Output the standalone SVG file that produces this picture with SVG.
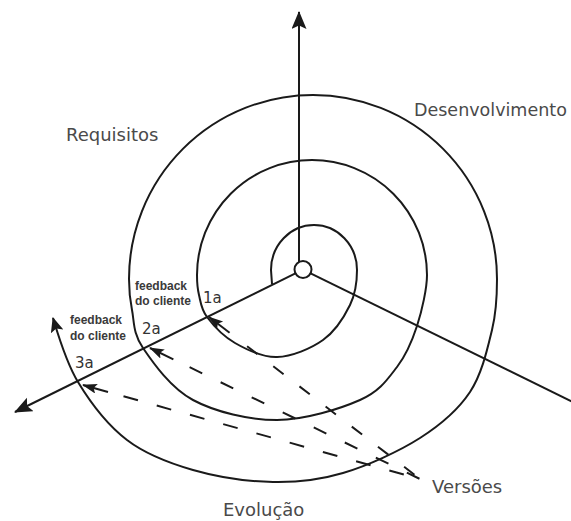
<svg xmlns="http://www.w3.org/2000/svg" width="571" height="521" viewBox="0 0 571 521">
<style>
.ln{fill:none;stroke:#1a1a1a;stroke-width:2}
.lbl{font-family:"DejaVu Sans",sans-serif;font-size:18px;fill:#4a4a4a}
.num{font-family:"DejaVu Sans",sans-serif;font-size:15px;fill:#333}
.fb{font-family:"Liberation Sans",Arial,sans-serif;font-size:12px;font-weight:bold;fill:#3a3a3a}
</style>
<defs>
<marker id="axArrow" markerUnits="userSpaceOnUse" markerWidth="20" markerHeight="16" refX="17" refY="7.5" orient="auto">
<path d="M0,0 L18,7.5 L0,15 L3.5,7.5 Z" fill="#1a1a1a"/>
</marker>
<marker id="spArrow" markerUnits="userSpaceOnUse" markerWidth="16" markerHeight="14" refX="14" refY="6.5" orient="auto">
<path d="M0,0 L15,6.5 L0,13 L3,6.5 Z" fill="#1a1a1a"/>
</marker>
<marker id="fbArrow" markerUnits="userSpaceOnUse" markerWidth="16" markerHeight="12" refX="14" refY="5" orient="auto-start-reverse">
<path d="M0,0 L15,5 L0,10 L3,5 Z" fill="#1a1a1a"/>
</marker>
</defs>
<g id="connectors">
<line id="axis-up" class="ln" x1="299" y1="262" x2="299" y2="12" marker-end="url(#axArrow)"/>
<line id="axis-left" class="ln" x1="295.4" y1="273.3" x2="15" y2="412" marker-end="url(#axArrow)"/>
<line id="axis-right" class="ln" x1="310.6" y1="273.3" x2="575" y2="403"/>
<path id="spiral" class="ln" marker-end="url(#spArrow)" d="M272,284 L271,270 A43,45 0 0 1 357,270
C357,282 355.7,293.3 350,305
C344.3,316.7 335.2,331.3 323,340
C310.8,348.7 291.7,356.5 277,357
C262.3,357.5 246.7,349.7 235,343
C223.3,336.3 213,325 207,317
C201,309 200.7,302 199,295
C197.3,288 197,285 197,275
A115,115 0 0 1 427,275
C427,288 422,310.7 417,326
C412,341.3 406.5,354.7 397,367
C387.5,379.3 380,391.2 360,400
C340,408.8 304.8,420 277,420
C249.2,420 215.3,412 193,400
C170.7,388 153.2,363 143,348
C132.8,333 134.3,321.5 132,310
C129.7,298.5 129,290 129,279
A184,184 0 0 1 497,279
C497,297 496.5,311.5 492,330
C487.5,348.5 482,374 470,392
C458,410 441.2,424.5 420,438
C398.8,451.5 367.5,465.7 343,473
C318.5,480.3 298,482.5 273,482
C248,481.5 217.3,477 193,470
C168.7,463 146.2,454.7 127,440
C107.8,425.3 90.3,402.3 78,382
C65.7,361.7 57.7,333.3 53,318"/>
<g id="versoes-1">
<line class="ln" x1="209" y1="317" x2="229.6" y2="332.8" marker-start="url(#fbArrow)"/>
<line class="ln" x1="247.1" y1="346.2" x2="420" y2="479" stroke-dasharray="13 20"/>
</g>
<g id="versoes-2">
<line class="ln" x1="150" y1="348" x2="173.4" y2="359.3" marker-start="url(#fbArrow)"/>
<line class="ln" x1="189.6" y1="367.2" x2="420" y2="479" stroke-dasharray="14 20.5"/>
</g>
<g id="versoes-3">
<line class="ln" x1="83" y1="385" x2="108" y2="392" marker-start="url(#fbArrow)"/>
<line class="ln" x1="123.5" y1="396.3" x2="420" y2="479" stroke-dasharray="15 19.5"/>
</g>
</g>
<g id="center">
<circle cx="303" cy="269.5" r="8.5" fill="#fff" stroke="#1a1a1a" stroke-width="2"/>
</g>
<g id="label-requisitos"><text class="lbl" x="66" y="141">Requisitos</text></g>
<g id="label-desenvolvimento"><text class="lbl" x="414" y="116" style="font-size:17.5px">Desenvolvimento</text></g>
<g id="label-evolucao"><text class="lbl" x="223" y="516">Evolução</text></g>
<g id="label-versoes"><text class="lbl" x="432" y="493">Versões</text></g>
<g id="feedback-1"><text class="fb" x="135" y="290">feedback</text><text class="fb" x="135" y="305">do cliente</text></g>
<g id="feedback-2"><text class="fb" x="70" y="324">feedback</text><text class="fb" x="70" y="340">do cliente</text></g>
<g id="label-1a"><text class="num" x="203" y="303">1a</text></g>
<g id="label-2a"><text class="num" x="142" y="334">2a</text></g>
<g id="label-3a"><text class="num" x="75" y="368">3a</text></g>
</svg>
